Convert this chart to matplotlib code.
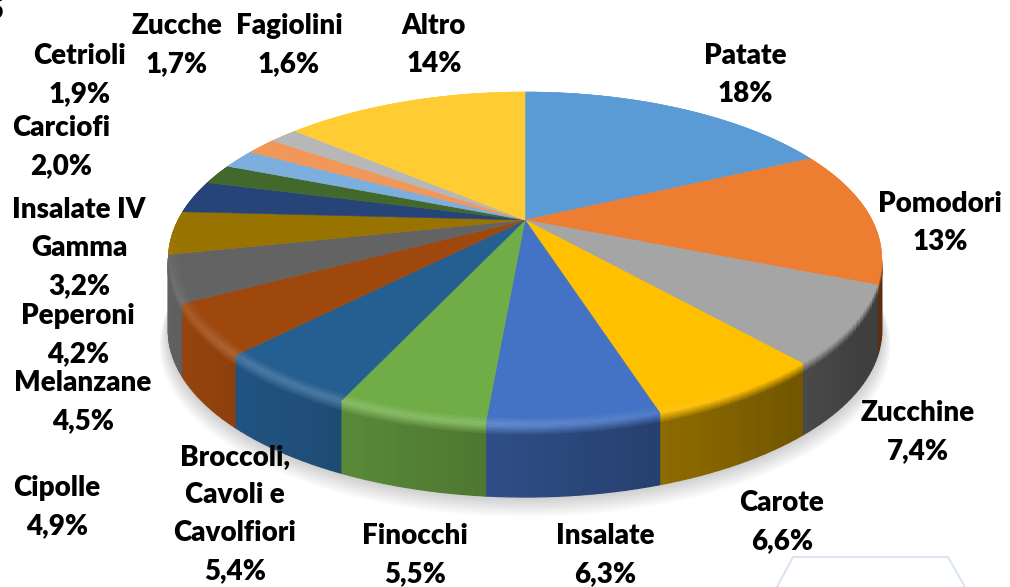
import numpy as np
import matplotlib
matplotlib.use('Agg')
import matplotlib.pyplot as plt
from matplotlib.colors import to_rgb

categories = ['Patate', 'Pomodori', 'Zucchine', 'Carote', 'Insalate', 'Finocchi',
              'Broccoli,\nCavoli e\nCavolfiori', 'Cipolle', 'Melanzane', 'Peperoni',
              'Insalate IV\nGamma', 'Carciofi', 'Cetrioli', 'Zucche', 'Fagiolini', 'Altro']
values = [18, 13.2, 7.4, 6.6, 6.3, 5.5, 5.4, 4.9, 4.5, 4.2, 3.2, 2.0, 1.9, 1.7, 1.6, 13.8]
value_labels = ['18%', '13%', '7,4%', '6,6%', '6,3%', '5,5%', '5,4%', '4,9%',
                '4,5%', '4,2%', '3,2%', '2,0%', '1,9%', '1,7%', '1,6%', '14%']
colors = ['#5B9BD5', '#ED7D31', '#A5A5A5', '#FFC000', '#4472C4', '#70AD47', '#255E91', '#9E480E',
          '#636363', '#997300', '#264478', '#43682B', '#7CAFDD', '#F1975A', '#B7B7B7', '#FFCD33']
label_pos = [(745, 75), (940, 223), (918, 432), (782, 522), (605, 555), (415, 555),
             (235, 514), (57, 507), (83, 402), (78, 335), (79, 248), (61, 147),
             (80, 75), (177, 45), (289, 45), (434, 45)]

# perspective of the pie: apex, half width, depth, wall height in pixels
CX, CY = 525, 220
A, B, K = 347, 157.6, 0.2313
DEPTH = 72


def project(r, t, h=0):
    u, v = r * np.sin(t), r * np.cos(t)
    d = 1 + K * v
    return CX + A * u / d, CY - B * v / d + h


def blend(c, other, f):
    return tuple(a * (1 - f) + b * f for a, b in zip(c, other))


def highlight(t):
    u, v = np.sin(t), np.cos(t)
    return 0.17 * np.clip(-v * 1.3, 0, 1) * np.clip(0.9 - u * 1.6, 0, 1)


def wall_shade(t):
    return np.clip(0.66 - 0.33 * np.sin(t), 0.38, 1.0)


fig = plt.figure(figsize=(10.1, 5.87), dpi=100)
ax = fig.add_axes([0, 0, 1, 1])
ax.set_xlim(0, 1010)
ax.set_ylim(587, 0)
ax.axis('off')

# soft shadow under the pie
ts = np.linspace(0, 2 * np.pi, 300)
for s in range(12, 0, -1):
    x, y = project(1 + s * 0.002, ts, DEPTH + s * 1.1)
    ax.fill(x, y, color='black', alpha=0.017, lw=0)

edges = np.cumsum([0] + values) / np.sum(values) * 2 * np.pi

# side wall, in small cells so the shading can vary around the rim
rows = [0, 2, 4, 6, 8, 10, 12, DEPTH]
for i, col in enumerate(colors):
    c = to_rgb(col)
    tt = np.arange(edges[i], edges[i + 1], np.radians(1.5))
    tt = np.append(tt, edges[i + 1])
    for a, b in zip(tt[:-1], tt[1:]):
        m = (a + b) / 2
        if np.cos(m) > -K:
            continue
        lit = blend(c, (1, 1, 1), highlight(m))
        dark = tuple(x * wall_shade(m) for x in c)
        for h0, h1 in zip(rows[:-1], rows[1:]):
            cc = blend(lit, dark, min(h0 / 10, 1))
            x0, y0 = project(1, np.array([a, b]), h0)
            x1, y1 = project(1, np.array([b, a]), h1)
            ax.fill(np.r_[x0, x1], np.r_[y0, y1], color=cc, lw=0.9)

# top face
for i, col in enumerate(colors):
    c = to_rgb(col)
    tt = np.linspace(edges[i], edges[i + 1], 60)
    x, y = project(1, tt)
    ax.fill(np.r_[CX, x], np.r_[CY, y], color=c, lw=0.4)
    for a, b in zip(tt[:-1], tt[1:]):
        m = (a + b) / 2
        steps = np.linspace(0.975, 1, 4)
        for j in range(3):
            cc = blend(c, (1, 1, 1), highlight(m) * (j + 1) / 3)
            x0, y0 = project(steps[j], np.array([a, b]))
            x1, y1 = project(steps[j + 1], np.array([b, a]))
            ax.fill(np.r_[x0, x1], np.r_[y0, y1], color=cc, lw=0.3)

for name, val, (lx, ly) in zip(categories, value_labels, label_pos):
    ax.text(lx, ly, name + '\n' + val, ha='center', va='center', family='Lato',
            fontweight='heavy', fontsize=20, color='black', linespacing=1.56)

# bits of the slide behind the chart
ax.text(-5, 11, '5', ha='center', va='center', family='Lato', fontweight='heavy', fontsize=20)
ax.plot([777, 793, 948, 965], [587, 557, 557, 587], color='#DCE6F2', lw=1.5)

fig.savefig('out.png', dpi=100)
